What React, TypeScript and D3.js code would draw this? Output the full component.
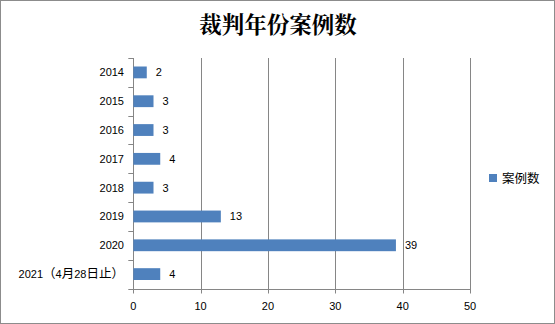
import React from "react";
import * as d3 from "d3";

const categories = ["2014", "2015", "2016", "2017", "2018", "2019", "2020", "2021（4月28日止）"];
const values = [2, 3, 3, 4, 3, 13, 39, 4];
const xTicks = [0, 10, 20, 30, 40, 50];
const title = "裁判年份案例数";
const seriesName = "案例数";

const W = 555, H = 324;
const left = 133.3, right = 470, top = 58, bottom = 288.5;
const GRID = "#868686";
const BAR = "#4F81BD";
const FONT = "'Liberation Sans', 'Noto Sans CJK SC', sans-serif";
const CJK = "'Noto Sans CJK SC', sans-serif";

function runs(s: string) {
  const out: { t: string; cjk: boolean }[] = [];
  for (const ch of s) {
    const cjk = ch.charCodeAt(0) > 255;
    if (out.length && out[out.length - 1].cjk === cjk) out[out.length - 1].t += ch;
    else out.push({ t: ch, cjk });
  }
  return out;
}

export default function App() {
  const x = d3.scaleLinear().domain([0, 50]).range([left, right]);
  const y = d3.scaleBand<string>().domain(categories).range([top, bottom]).paddingInner(0.59).paddingOuter(0.295);
  const band = d3.scaleBand<string>().domain(categories).range([top, bottom]);
  const boundaries = d3.range(categories.length + 1).map((i) => top + (i * (bottom - top)) / categories.length);
  return (
    <svg width={W} height={H} style={{ position: "absolute", left: 0, top: 0 }} fontFamily={FONT}>
      <rect x={0.5} y={0.5} width={W - 1} height={H - 1} fill="#fff" stroke="#8c8c8c" />
      <text x={278} y={33} textAnchor="middle" fontSize={22.5} fontWeight="bold" fontFamily="'Noto Serif CJK SC', 'Noto Sans CJK SC', serif" fill="#000">{title}</text>
      {xTicks.map((t) => (
        <line key={"g" + t} x1={Math.round(x(t)) + 0.5} x2={Math.round(x(t)) + 0.5} y1={top} y2={bottom + 5} stroke={GRID} />
      ))}
      {boundaries.map((b, i) => (
        <line key={"ct" + i} x1={left - 5} x2={left} y1={Math.round(b) + 0.5} y2={Math.round(b) + 0.5} stroke={GRID} />
      ))}
      <line x1={left} x2={right} y1={Math.round(bottom) + 0.5} y2={Math.round(bottom) + 0.5} stroke={GRID} />
      {categories.map((c, i) => (
        <g key={c}>
          <rect x={x(0)} y={y(c)!} width={x(values[i]) - x(0)} height={y.bandwidth()} fill={BAR} />
          <text x={x(values[i]) + 9} y={y(c)! + y.bandwidth() / 2} dy="0.35em" fontSize={11} fill="#000">{values[i]}</text>
          <text x={124} y={band(c)! + band.bandwidth() / 2} dy="0.35em" fontSize={11} textAnchor="end" fill="#000">
            {runs(c).map((r, j) => (
              <tspan key={j} fontFamily={r.cjk ? CJK : FONT} fontSize={r.cjk ? 12.5 : 11}>{r.t}</tspan>
            ))}
          </text>
        </g>
      ))}
      {xTicks.map((t) => (
        <text key={"xl" + t} x={x(t)} y={306} dy="0.35em" textAnchor="middle" fontSize={11} fill="#000">{t}</text>
      ))}
      <rect x={489} y={174} width={8} height={8} fill={BAR} />
      <text x={502} y={178.5} dy="0.35em" fontSize={12.5} fontFamily={CJK} fill="#000">{seriesName}</text>
    </svg>
  );
}
